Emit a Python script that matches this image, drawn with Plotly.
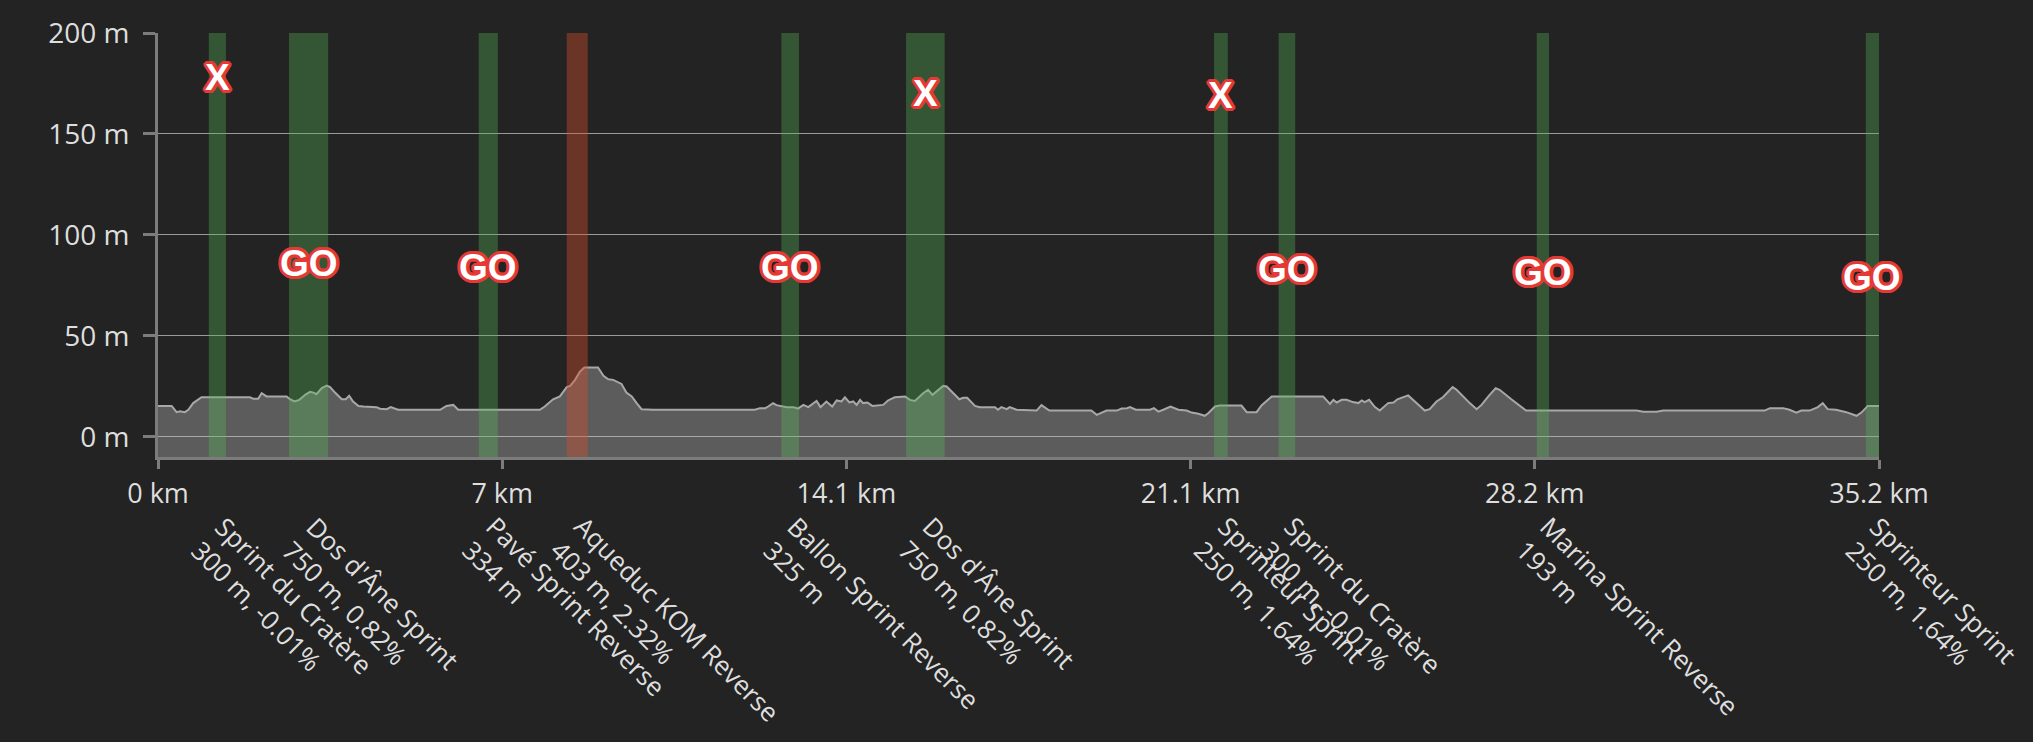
import plotly.graph_objects as go

# ---- data ----
total_km = 35.2
tick_labels = ["0 km", "7 km", "14.1 km", "21.1 km", "28.2 km", "35.2 km"]
y_ticks = [0, 50, 100, 150, 200]
y_tick_labels = ["0 m", "50 m", "100 m", "150 m", "200 m"]

dist_km = [0, 0.28, 0.38, 0.45, 0.55, 0.62, 0.72, 0.89, 1.88, 1.95, 2.05, 2.12, 2.22, 2.63, 2.70,
           2.79, 2.89, 3.01, 3.11, 3.18, 3.24, 3.35, 3.45, 3.52, 3.62, 3.76, 3.84, 3.91, 3.99, 4.10,
           4.20, 4.47, 4.54, 4.68, 4.76, 4.91, 5.77, 5.90, 6.04, 6.14, 7.81, 7.91, 8.08, 8.22, 8.36,
           8.43, 8.53, 8.63, 8.72, 9.00, 9.11, 9.21, 9.31, 9.38, 9.48, 9.58, 9.69, 9.79, 9.89, 10.13,
           12.21, 12.31, 12.42, 12.48, 12.58, 12.65, 12.75, 12.86, 12.99, 13.09, 13.20, 13.30, 13.47,
           13.55, 13.67, 13.79, 13.88, 13.98, 14.05, 14.14, 14.22, 14.29, 14.36, 14.42, 14.51, 14.61,
           14.83, 14.93, 15.07, 15.28, 15.38, 15.48, 15.65, 15.75, 15.84, 15.96, 16.06, 16.13, 16.26,
           16.39, 16.47, 16.55, 16.71, 16.81, 17.12, 17.18, 17.25, 17.36, 17.42, 17.56, 17.97, 18.07,
           18.23, 19.09, 19.20, 19.40, 19.61, 19.71, 19.82, 19.88, 20.00, 20.29, 20.37, 20.46, 20.56,
           20.71, 20.87, 21.04, 21.14, 21.28, 21.41, 21.48, 21.62, 21.72, 22.16, 22.27, 22.47, 22.57,
           22.78, 23.83, 23.97, 24.04, 24.11, 24.21, 24.31, 24.44, 24.55, 24.62, 24.68, 24.77, 24.89,
           24.99, 25.16, 25.27, 25.35, 25.57, 25.74, 25.91, 26.01, 26.15, 26.28, 26.48, 26.56, 26.70,
           26.83, 26.97, 27.07, 27.21, 27.36, 27.44, 27.58, 27.68, 27.98, 30.24, 30.38, 30.65, 30.79,
           32.86, 32.97, 33.24, 33.37, 33.51, 33.61, 33.78, 33.95, 34.05, 34.15, 34.32, 34.53, 34.63,
           34.74, 34.84, 34.97, 35.20]
elev_m = [15.3, 15.3, 12.2, 12.7, 12.2, 13.4, 16.7, 19.6, 19.6, 18.8, 18.8, 21.6, 20.0, 20.0, 18.6,
          17.5, 18.3, 20.8, 22.3, 21.9, 21.1, 24.1, 25.4, 24.6, 21.9, 18.6, 18.6, 20.3, 17.5, 15.3,
          15.0, 14.7, 13.9, 13.7, 14.7, 13.4, 13.4, 15.3, 15.8, 13.4, 13.4, 15.0, 18.6, 20.0, 24.6,
          25.2, 28.2, 32.3, 34.3, 34.3, 30.2, 28.5, 28.2, 27.4, 26.2, 21.9, 20.0, 16.7, 13.7, 13.4,
          13.4, 14.2, 14.2, 15.0, 16.7, 15.7, 15.3, 14.7, 14.7, 14.0, 15.8, 14.7, 17.8,
          14.7, 17.5, 15.0, 18.0, 17.5, 19.6, 17.0, 17.5, 15.8, 18.3, 16.7, 17.0, 15.3,
          15.8, 18.0, 19.6, 20.0, 18.3, 17.8, 21.6, 23.3, 20.8, 23.3, 25.2, 24.9, 21.6,
          18.6, 19.3, 19.3, 15.3, 14.7, 14.7, 13.4, 14.7, 13.7, 14.7, 13.4, 13.0, 15.7,
          13.0, 13.0, 10.9, 13.0, 13.0, 14.0, 14.2, 14.7, 13.4, 13.4, 14.2, 12.5, 13.4,
          15.0, 13.4, 13.0, 12.0, 11.4, 10.4, 11.7, 15.0, 15.5, 15.5, 12.2, 12.2, 15.5,
          20.0, 20.0, 16.3, 18.3, 17.0, 18.3, 18.3, 17.2, 16.7, 18.0, 17.2, 18.3, 14.7,
          13.0, 16.7, 17.0, 18.6, 20.5, 16.7, 13.0, 13.7, 17.5, 19.6, 24.6, 23.3, 19.6,
          16.7, 13.7, 15.8, 20.0, 24.1, 23.3, 20.3, 18.6, 13.0, 13.0, 12.4, 12.4, 13.0,
          13.0, 14.2, 14.2, 13.4, 12.0, 13.0, 13.0, 14.7, 16.7, 13.7, 13.4, 12.2, 11.4,
          10.4, 12.0, 15.3, 15.3]

seg_names = ["Sprint du Cratère", "Dos d'Âne Sprint", "Pavé Sprint Reverse", "Aqueduc KOM Reverse",
             "Ballon Sprint Reverse", "Dos d'Âne Sprint", "Sprinteur Sprint", "Sprint du Cratère",
             "Marina Sprint Reverse", "Sprinteur Sprint"]
seg_details = ["300 m, -0.01%", "750 m, 0.82%", "334 m", "403 m, 2.32%", "325 m",
               "750 m, 0.82%", "250 m, 1.64%", "300 m, -0.01%", "193 m", "250 m, 1.64%"]
seg_start_km = [1.04, 2.68, 6.56, 8.36, 12.75, 15.30, 21.60, 22.92, 28.20, 34.93]
seg_end_km = [1.39, 3.48, 6.95, 8.79, 13.11, 16.09, 21.88, 23.26, 28.45, 35.20]
seg_type = ["sprint", "sprint", "sprint", "kom", "sprint", "sprint", "sprint", "sprint", "sprint", "sprint"]
seg_marker = ["X", "GO", "GO", "", "GO", "X", "X", "GO", "GO", "GO"]
seg_marker_y = [178, 85.6, 83.7, None, 83.7, 170, 169, 82.7, 81.2, 78.7]

# ---- styles ----
BG = "#232323"
AXIS = "#7c7c7c"
GRID = "#999999"
TEXT = "#dedede"
BAND = {"sprint": "rgba(85,184,90,0.35)", "kom": "rgba(212,77,45,0.4)"}
RED = "#e53935"
outline = ", ".join(f"{dx}px {dy}px 0 {RED}" for dx, dy in
                    [(3, 0), (-3, 0), (0, 3), (0, -3), (2, 2), (-2, -2), (2, -2), (-2, 2),
                     (3, 1), (-3, 1), (3, -1), (-3, -1), (1, 3), (-1, 3), (1, -3), (-1, -3)])

fig = go.Figure()
fig.add_trace(go.Scatter(x=dist_km, y=[-10] * len(dist_km), mode="lines",
                         line=dict(width=0), hoverinfo="skip", showlegend=False))
fig.add_trace(go.Scatter(x=dist_km, y=elev_m, mode="lines", fill="tonexty",
                         fillcolor="rgba(200,200,200,0.35)",
                         line=dict(color="#a8a8a8", width=2), showlegend=False))

for name, det, s, e, t, mk, my in zip(seg_names, seg_details, seg_start_km, seg_end_km,
                                       seg_type, seg_marker, seg_marker_y):
    fig.add_shape(type="rect", xref="x", yref="paper", x0=s, x1=e, y0=0, y1=1,
                  fillcolor=BAND[t], line=dict(width=0), layer="above")
    c = (s + e) / 2
    if mk:
        fig.add_annotation(x=c, y=my, xref="x", yref="y", text=mk, showarrow=False,
                           font=dict(family="Liberation Sans", size=37, color="white",
                                     weight="bold", shadow=outline))
    fig.add_annotation(x=c, y=0, xref="x", yref="paper", text=f"{name}<br>{det}",
                       showarrow=False, textangle=45, xanchor="left", yanchor="top",
                       align="left", xshift=-37, yshift=-49,
                       font=dict(family="Open Sans", size=26, color=TEXT))

fig.update_layout(
    width=2033, height=742, autosize=False,
    paper_bgcolor=BG, plot_bgcolor=BG,
    margin=dict(l=158, r=154, t=33, b=285),
    font=dict(family="Open Sans", color=TEXT, size=27),
    xaxis=dict(range=[0, total_km], tickvals=[total_km * i / 5 for i in range(6)],
               ticktext=tick_labels, showgrid=False, zeroline=False, showline=True,
               linecolor=AXIS, linewidth=3, ticks="outside", ticklen=9, tickwidth=3,
               tickcolor=AXIS, ticklabelstandoff=2, tickfont=dict(size=27, color=TEXT)),
    yaxis=dict(range=[-10, 200], tickvals=y_ticks, ticktext=y_tick_labels, showgrid=True,
               gridcolor=GRID, gridwidth=1, zeroline=False, showline=True,
               linecolor=AXIS, linewidth=3, ticks="outside", ticklen=12, tickwidth=3,
               tickcolor=AXIS, ticklabelstandoff=8, tickfont=dict(size=28, color=TEXT)),
)

fig.write_html("out.html", config={"displayModeBar": False},
               post_script="document.body.style.margin='0';document.body.style.background='#232323';")
